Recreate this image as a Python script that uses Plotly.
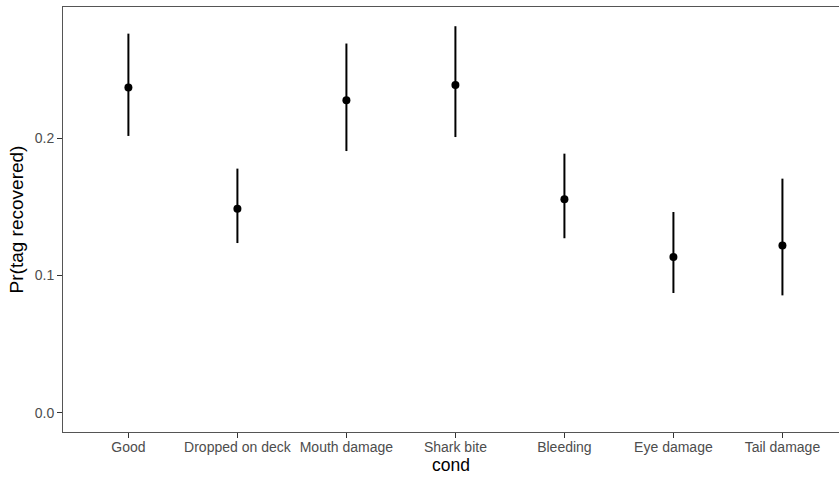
import plotly.graph_objects as go

categories = ["Good", "Dropped on deck", "Mouth damage", "Shark bite",
              "Bleeding", "Eye damage", "Tail damage"]
estimate = [0.2367, 0.1485, 0.2275, 0.2386, 0.1554, 0.1133, 0.1218]
lower = [0.2015, 0.1235, 0.1905, 0.2007, 0.1270, 0.0871, 0.0854]
upper = [0.2760, 0.1777, 0.2688, 0.2814, 0.1886, 0.1461, 0.1704]

y_ticks = [0.0, 0.1, 0.2]
y_ticktext = ["0.0", "0.1", "0.2"]

FONT = "Liberation Sans, Arial, sans-serif"

err_plus = [u - m for u, m in zip(upper, estimate)]
err_minus = [m - l for m, l in zip(estimate, lower)]

fig = go.Figure()
fig.add_trace(go.Scatter(
    x=categories, y=estimate, mode="markers",
    marker=dict(color="black", size=8),
    error_y=dict(type="data", symmetric=False, array=err_plus,
                 arrayminus=err_minus, width=0, thickness=2, color="black"),
    showlegend=False,
))

fig.update_layout(
    width=839, height=478,
    margin=dict(l=63, r=0, t=7, b=46),
    paper_bgcolor="white", plot_bgcolor="white",
    font=dict(family=FONT),
    xaxis=dict(
        type="category", categoryorder="array", categoryarray=categories,
        range=[-0.6, 6.519], showgrid=False, zeroline=False,
        showline=True, linecolor="#555555", linewidth=1, mirror=True,
        ticks="outside", ticklen=5, tickcolor="#333333", tickwidth=1,
        ticklabelstandoff=-3,
        tickfont=dict(size=14, color="#4d4d4d", family=FONT),
        title=dict(text="cond", font=dict(size=17.5, color="black", family=FONT), standoff=2),
        automargin=False,
    ),
    yaxis=dict(
        range=[-0.0141, 0.2954], tickvals=y_ticks, ticktext=y_ticktext,
        showgrid=False, zeroline=False,
        showline=True, linecolor="#555555", linewidth=1, mirror=False,
        ticks="outside", ticklen=5, tickcolor="#333333", tickwidth=1,
        tickfont=dict(size=14, color="#4d4d4d", family=FONT),
        title=dict(text="Pr(tag recovered)", font=dict(size=19, color="black", family=FONT), standoff=6),
        automargin=False,
    ),
)

fig.write_html(
    "out.html",
    config={"displayModeBar": False},
    post_script="document.body.style.margin='0';document.body.style.overflow='hidden';",
)
